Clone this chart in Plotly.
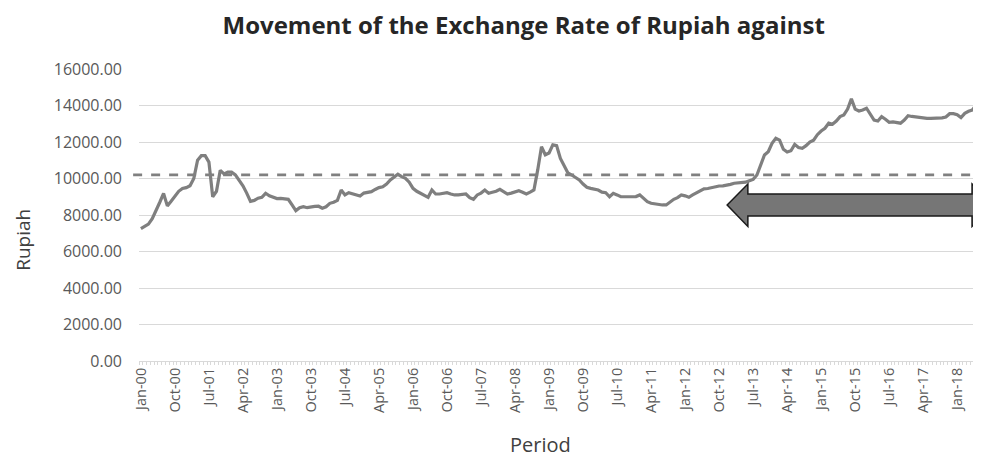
import plotly.graph_objects as go

months = ["Jan", "Feb", "Mar", "Apr", "May", "Jun", "Jul", "Aug", "Sep", "Oct", "Nov", "Dec"]
years = list(range(2000, 2019))
periods = [f"{mo}-{str(y)[2:]}" for y in years for mo in months][:222]

rate_2000 = [7250, 7400, 7500, 7800, 8300, 8700, 9180, 8500, 8750, 9000, 9300, 9450]
rate_2001 = [9500, 9600, 10000, 11000, 11250, 11250, 10900, 9000, 9300, 10450, 10250, 10350]
rate_2002 = [10350, 10200, 9900, 9600, 9200, 8750, 8800, 8920, 8970, 9190, 9050, 8970]
rate_2003 = [8900, 8910, 8900, 8860, 8550, 8240, 8400, 8460, 8400, 8450, 8470, 8480]
rate_2004 = [8370, 8450, 8640, 8700, 8800, 9370, 9100, 9220, 9150, 9080, 9040, 9200]
rate_2005 = [9250, 9280, 9400, 9500, 9550, 9700, 9920, 10100, 10230, 10100, 10010, 9800]
rate_2006 = [9460, 9300, 9190, 9050, 8970, 9370, 9150, 9150, 9200, 9220, 9150, 9100]
rate_2007 = [9100, 9120, 9150, 8950, 8860, 9100, 9200, 9370, 9190, 9250, 9300, 9410]
rate_2008 = [9300, 9150, 9200, 9250, 9330, 9250, 9150, 9250, 9370, 10470, 11740, 11300]
rate_2009 = [11400, 11840, 11800, 11100, 10650, 10300, 10190, 10050, 9920, 9700, 9520, 9460]
rate_2010 = [9400, 9370, 9250, 9220, 9000, 9190, 9100, 9000, 9000, 9000, 9000, 9010]
rate_2011 = [9100, 8900, 8730, 8640, 8600, 8580, 8550, 8550, 8700, 8860, 8950, 9100]
rate_2012 = [9050, 8970, 9100, 9220, 9300, 9430, 9450, 9500, 9550, 9590, 9600, 9620]
rate_2013 = [9680, 9740, 9760, 9780, 9800, 9880, 9950, 10190, 10800, 11290, 11470, 11930]
rate_2014 = [12200, 12100, 11600, 11450, 11520, 11870, 11700, 11660, 11800, 12000, 12100, 12400]
rate_2015 = [12600, 12750, 13030, 12970, 13150, 13390, 13480, 13800, 14360, 13800, 13700, 13750]
rate_2016 = [13850, 13500, 13200, 13150, 13390, 13250, 13080, 13100, 13050, 13030, 13200, 13440]
rate_2017 = [13400, 13370, 13350, 13320, 13300, 13300, 13310, 13300, 13320, 13370, 13550, 13550]
rate_2018 = [13500, 13340, 13570, 13680, 13750, 14030]

rates = (rate_2000 + rate_2001 + rate_2002 + rate_2003 + rate_2004 + rate_2005 + rate_2006
         + rate_2007 + rate_2008 + rate_2009 + rate_2010 + rate_2011 + rate_2012 + rate_2013
         + rate_2014 + rate_2015 + rate_2016 + rate_2017 + rate_2018)

reference_level = 10200
y_ticks = [0, 2000, 4000, 6000, 8000, 10000, 12000, 14000, 16000]
y_max = 16000
label_step = 9

idx = list(range(len(rates)))
tick_idx = idx[::label_step]
tick_txt = [periods[i] for i in tick_idx]

fig = go.Figure()
fig.add_trace(go.Scatter(
    x=idx, y=rates, mode="lines",
    line=dict(color="#7f7f7f", width=3.2),
    hoverinfo="skip", showlegend=False,
))

# dashed reference level
fig.add_shape(type="line", xref="paper", yref="paper", x0=-0.007, x1=1.0,
              y0=reference_level / y_max, y1=reference_level / y_max,
              line=dict(color="#808080", width=2.6, dash="dash"), layer="above")

# double-headed block arrow (paper coordinates, y expressed as axis values / y_max)
arrow = dict(tip_l=0.701, base_l=0.7257, base_r=0.9929, tip_r=1.0179,
             y_tip=8550, y_head_top=9700, y_head_bot=7370, y_sh_top=9150, y_sh_bot=7950)
a = {k: (v / y_max if k.startswith("y") else v) for k, v in arrow.items()}
path = (f"M {a['tip_l']} {a['y_tip']} L {a['base_l']} {a['y_head_top']} L {a['base_l']} {a['y_sh_top']} "
        f"L {a['base_r']} {a['y_sh_top']} L {a['base_r']} {a['y_head_top']} L {a['tip_r']} {a['y_tip']} "
        f"L {a['base_r']} {a['y_head_bot']} L {a['base_r']} {a['y_sh_bot']} L {a['base_l']} {a['y_sh_bot']} "
        f"L {a['base_l']} {a['y_head_bot']} Z")
fig.add_shape(type="path", xref="paper", yref="paper", path=path,
              fillcolor="#767676", line=dict(color="#1a1a1a", width=1.5), layer="above")

font_family = "Open Sans, Lato, sans-serif"
# the page body adds an 8px offset, so the figure is 8px smaller than the window
fig.update_layout(
    width=973, height=451,
    margin=dict(l=131, r=3, t=61, b=98),
    paper_bgcolor="white", plot_bgcolor="white",
    title=dict(text="<b>Movement of the Exchange Rate of Rupiah against</b>",
               x=0.530, xanchor="center", y=0.962, yanchor="middle",
               font=dict(family=font_family, size=24, color="#262626")),
    font=dict(family=font_family, color="#595959"),
    annotations=[
        dict(text="Rupiah", xref="paper", yref="paper", x=-0.1386, y=0.414,
             xanchor="center", yanchor="middle", textangle=-90, showarrow=False,
             font=dict(size=19, color="#404040")),
        dict(text="Period", xref="paper", yref="paper", x=0.478, y=-0.287,
             xanchor="center", yanchor="middle", showarrow=False,
             font=dict(size=20, color="#404040")),
    ],
)
fig.update_xaxes(
    range=[-0.5, len(rates) - 0.5], automargin=False,
    tickmode="array", tickvals=tick_idx, ticktext=tick_txt, tickangle=-90,
    tickfont=dict(size=14.5, color="#595959"),
    showgrid=False, zeroline=False,
    showline=True, linecolor="#d9d9d9", linewidth=1,
    ticks="",
    minor=dict(tickmode="linear", tick0=-0.5, dtick=1, ticks="outside", ticklen=3,
               tickcolor="#d9d9d9", showgrid=False),
)
fig.update_yaxes(
    range=[0, y_max], automargin=False,
    tickmode="array", tickvals=y_ticks, tickformat=".2f",
    tickfont=dict(size=16, color="#595959"),
    showgrid=True, gridcolor="#d9d9d9", gridwidth=1,
    zeroline=False, showline=False, ticks="", ticklabelstandoff=16,
)

fig.write_html("out.html")
